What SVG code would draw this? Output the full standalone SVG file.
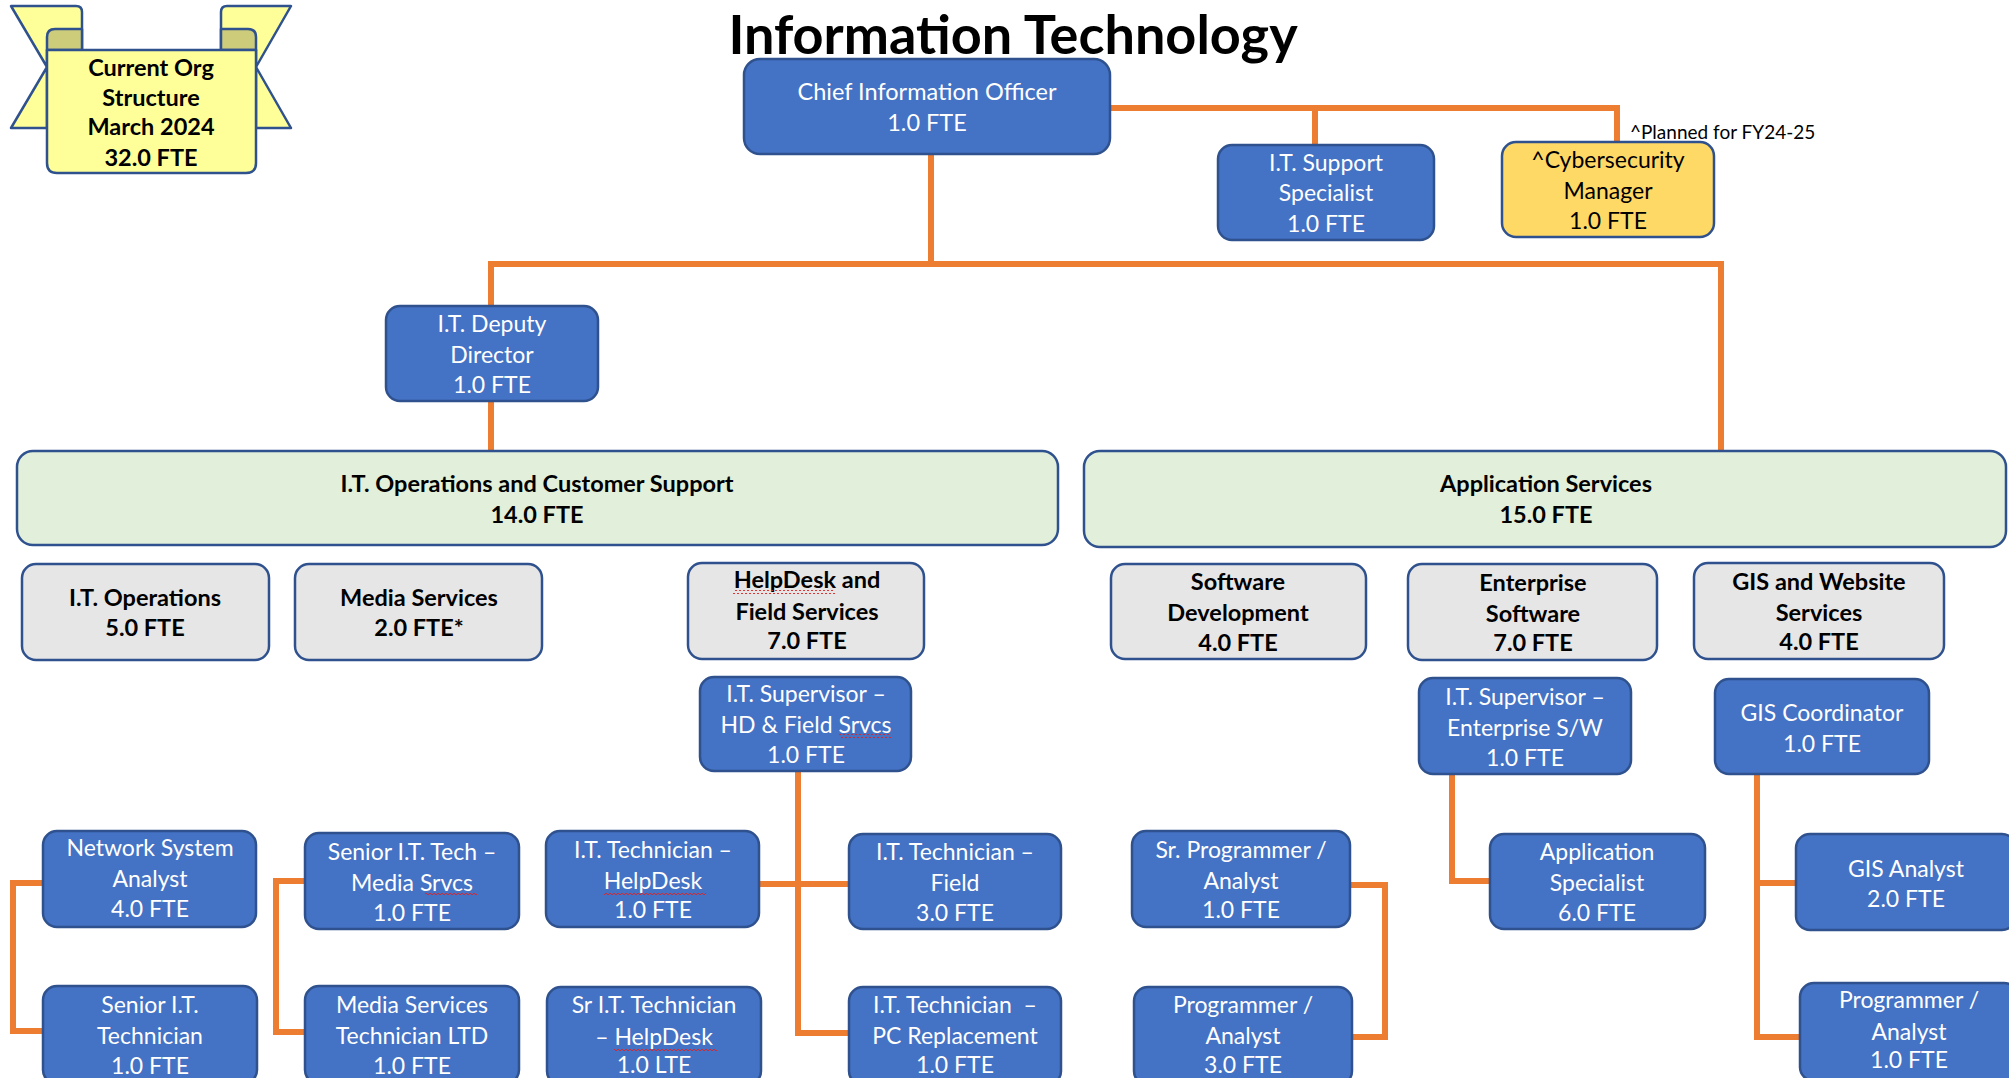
<svg xmlns="http://www.w3.org/2000/svg" width="2009" height="1078" viewBox="0 0 2009 1078">
  <defs>
    <style>
      .blue { fill: #4472C4; stroke: #2F528F; stroke-width: 2.5; }
      .grey { fill: #E7E6E6; stroke: #2F528F; stroke-width: 2.5; }
      .green { fill: #E2EFDA; stroke: #2F528F; stroke-width: 2.5; }
      .gold { fill: #FFD966; stroke: #2F528F; stroke-width: 2.5; }
      .wt { font-family: Lato, "Liberation Sans", sans-serif; font-size: 23px; fill: #FFFFFF; text-anchor: middle; }
      .bt { font-family: Lato, "Liberation Sans", sans-serif; font-size: 23px; fill: #000000; text-anchor: middle; }
      .bb { font-family: Lato, "Liberation Sans", sans-serif; font-size: 23.5px; font-weight: 700; fill: #000000; text-anchor: middle; }
      .wire { fill: none; stroke: #ED7D31; stroke-width: 6; stroke-linejoin: miter; }
      .spell { fill: url(#squiggle); }
    </style>
    <pattern id="squiggle" x="0" y="0" width="4" height="4" patternUnits="userSpaceOnUse">
      <path d="M0,3 L2,1 L4,3" fill="none" stroke="#E02020" stroke-width="0.9"/>
    </pattern>
  </defs>

  <rect x="0" y="0" width="2009" height="1078" fill="#FFFFFF"/>

  <!-- heading -->
  <text x="1013" y="54" font-family="Lato, 'Liberation Sans', sans-serif" font-size="54" font-weight="700" text-anchor="middle" fill="#000000">Information Technology</text>

  <!-- scroll banner -->
  <g id="banner">
    <path d="M11,6 L76,6 Q82,6 82,12 L82,50 L47,50 L47,128 L11,128 L47,67 Z" fill="#FFFF99" stroke="#2F528F" stroke-width="2.5" stroke-linejoin="round"/>
    <path d="M291,6 L227,6 Q221,6 221,12 L221,50 L256,50 L256,128 L291,128 L256,67 Z" fill="#FFFF99" stroke="#2F528F" stroke-width="2.5" stroke-linejoin="round"/>
    <path d="M47,50 L47,37 Q47,29 55,29 L82,29 L82,50 Z" fill="#CCCC7A" stroke="#2F528F" stroke-width="2.5" stroke-linejoin="round"/>
    <path d="M256,50 L256,37 Q256,29 248,29 L221,29 L221,50 Z" fill="#CCCC7A" stroke="#2F528F" stroke-width="2.5" stroke-linejoin="round"/>
    <path d="M47,50 L256,50 L256,163 Q256,173 246,173 L57,173 Q47,173 47,163 Z" fill="#FFFF99" stroke="#2F528F" stroke-width="2.5" stroke-linejoin="round"/>
    <text class="bb"><tspan x="151" y="76">Current Org</tspan><tspan x="151" y="106">Structure</tspan><tspan x="151" y="135">March 2024</tspan><tspan x="151" y="166">32.0 FTE</tspan></text>
  </g>

  <!-- reporting lines -->
  <g id="connectors">
    <path class="wire" d="M1110,108 H1617 V142"/>
    <path class="wire" d="M1315,108 V145"/>
    <path class="wire" d="M931,154 V264"/>
    <path class="wire" d="M491,306 V264 H1721 V451"/>
    <path class="wire" d="M491,401 V451"/>
    <path class="wire" d="M43,883 H13 V1031 H43"/>
    <path class="wire" d="M305,881 H276 V1032 H305"/>
    <path class="wire" d="M798,771 V1033 H849"/>
    <path class="wire" d="M759,884 H849"/>
    <path class="wire" d="M1350,885 H1385 V1037 H1352"/>
    <path class="wire" d="M1452,774 V881 H1490"/>
    <path class="wire" d="M1757,774 V1037 H1800"/>
    <path class="wire" d="M1757,883 H1796"/>
  </g>

  <!-- leadership -->
  <g id="cio">
    <rect class="blue" x="744" y="59" width="366" height="95" rx="16"/>
    <text class="wt" style="font-size:23.5px"><tspan x="927" y="100">Chief Information Officer</tspan><tspan x="927" y="131">1.0 FTE</tspan></text>
  </g>
  <g id="support-specialist">
    <rect class="blue" x="1218" y="145" width="216" height="95" rx="14"/>
    <text class="wt"><tspan x="1326" y="170.5">I.T. Support</tspan><tspan x="1326" y="201">Specialist</tspan><tspan x="1326" y="231.5">1.0 FTE</tspan></text>
  </g>
  <g id="cybersecurity-manager">
    <rect class="gold" x="1502" y="142" width="212" height="95" rx="14"/>
    <text class="bt"><tspan x="1608" y="168">^Cybersecurity</tspan><tspan x="1608" y="198.5">Manager</tspan><tspan x="1608" y="229">1.0 FTE</tspan></text>
    <text x="1630" y="139" font-family="Lato, 'Liberation Sans', sans-serif" font-size="19" fill="#000000">^Planned for FY24-25</text>
  </g>
  <g id="deputy-director">
    <rect class="blue" x="386" y="306" width="212" height="95" rx="14"/>
    <text class="wt"><tspan x="492" y="332">I.T. Deputy</tspan><tspan x="492" y="362.5">Director</tspan><tspan x="492" y="393">1.0 FTE</tspan></text>
  </g>

  <!-- divisions -->
  <g id="ops-customer-support">
    <rect class="green" x="17" y="451" width="1041" height="94" rx="16"/>
    <text class="bb"><tspan x="537" y="492">I.T. Operations and Customer Support</tspan><tspan x="537" y="523">14.0 FTE</tspan></text>
  </g>
  <g id="application-services">
    <rect class="green" x="1084" y="451" width="922" height="96" rx="16"/>
    <text class="bb"><tspan x="1546" y="492">Application Services</tspan><tspan x="1546" y="523">15.0 FTE</tspan></text>
  </g>

  <!-- sections -->
  <g id="it-operations">
    <rect class="grey" x="22" y="564" width="247" height="96" rx="14"/>
    <text class="bb"><tspan x="145" y="606">I.T. Operations</tspan><tspan x="145" y="636">5.0 FTE</tspan></text>
  </g>
  <g id="media-services">
    <rect class="grey" x="295" y="564" width="247" height="96" rx="14"/>
    <text class="bb"><tspan x="419" y="606">Media Services</tspan><tspan x="419" y="636">2.0 FTE*</tspan></text>
  </g>
  <g id="helpdesk-field">
    <rect class="grey" x="688" y="563" width="236" height="96" rx="14"/>
    <text class="bb"><tspan x="807" y="588">HelpDesk and</tspan><tspan x="807" y="620">Field Services</tspan><tspan x="807" y="649">7.0 FTE</tspan></text>
    <rect class="spell" x="733" y="590" width="102" height="4"/>
  </g>
  <g id="software-development">
    <rect class="grey" x="1111" y="564" width="255" height="95" rx="14"/>
    <text class="bb"><tspan x="1238" y="590">Software</tspan><tspan x="1238" y="621">Development</tspan><tspan x="1238" y="651">4.0 FTE</tspan></text>
  </g>
  <g id="enterprise-software">
    <rect class="grey" x="1408" y="564" width="249" height="96" rx="14"/>
    <text class="bb"><tspan x="1533" y="591">Enterprise</tspan><tspan x="1533" y="622">Software</tspan><tspan x="1533" y="651">7.0 FTE</tspan></text>
  </g>
  <g id="gis-website">
    <rect class="grey" x="1694" y="563" width="250" height="96" rx="14"/>
    <text class="bb"><tspan x="1819" y="590">GIS and Website</tspan><tspan x="1819" y="621">Services</tspan><tspan x="1819" y="650">4.0 FTE</tspan></text>
  </g>

  <!-- supervisors -->
  <g id="supervisor-hd-field">
    <rect class="blue" x="700" y="677" width="211" height="94" rx="14"/>
    <text class="wt"><tspan x="806" y="702">I.T. Supervisor –</tspan><tspan x="806" y="732.5">HD &amp; Field Srvcs</tspan><tspan x="806" y="763">1.0 FTE</tspan></text>
    <rect class="spell" x="839" y="734" width="52" height="4"/>
  </g>
  <g id="supervisor-enterprise">
    <rect class="blue" x="1419" y="678" width="212" height="96" rx="14"/>
    <text class="wt"><tspan x="1525" y="705">I.T. Supervisor –</tspan><tspan x="1525" y="735.5">Enterprise S/W</tspan><tspan x="1525" y="766">1.0 FTE</tspan></text>
  </g>
  <g id="gis-coordinator">
    <rect class="blue" x="1715" y="679" width="214" height="95" rx="14"/>
    <text class="wt"><tspan x="1822" y="721">GIS Coordinator</tspan><tspan x="1822" y="752">1.0 FTE</tspan></text>
  </g>

  <!-- staff -->
  <g id="network-system-analyst">
    <rect class="blue" x="43" y="831" width="213" height="96" rx="14"/>
    <text class="wt"><tspan x="150" y="856">Network System</tspan><tspan x="150" y="887">Analyst</tspan><tspan x="150" y="917">4.0 FTE</tspan></text>
  </g>
  <g id="senior-it-technician">
    <rect class="blue" x="43" y="986" width="214" height="98" rx="14"/>
    <text class="wt"><tspan x="150" y="1013">Senior I.T.</tspan><tspan x="150" y="1044">Technician</tspan><tspan x="150" y="1074">1.0 FTE</tspan></text>
  </g>
  <g id="senior-tech-media">
    <rect class="blue" x="305" y="833" width="214" height="96" rx="14"/>
    <text class="wt"><tspan x="412" y="860">Senior I.T. Tech –</tspan><tspan x="412" y="891">Media Srvcs</tspan><tspan x="412" y="921">1.0 FTE</tspan></text>
    <rect class="spell" x="425" y="893" width="52" height="4"/>
  </g>
  <g id="media-services-technician">
    <rect class="blue" x="305" y="986" width="214" height="98" rx="14"/>
    <text class="wt"><tspan x="412" y="1013">Media Services</tspan><tspan x="412" y="1044">Technician LTD</tspan><tspan x="412" y="1074">1.0 FTE</tspan></text>
  </g>
  <g id="technician-helpdesk">
    <rect class="blue" x="546" y="831" width="213" height="96" rx="14"/>
    <text class="wt"><tspan x="653" y="858">I.T. Technician –</tspan><tspan x="653" y="889">HelpDesk</tspan><tspan x="653" y="918">1.0 FTE</tspan></text>
    <rect class="spell" x="604" y="891" width="102" height="4"/>
  </g>
  <g id="sr-technician-helpdesk">
    <rect class="blue" x="547" y="987" width="214" height="98" rx="14"/>
    <text class="wt"><tspan x="654" y="1013">Sr I.T. Technician</tspan><tspan x="654" y="1045">– HelpDesk</tspan><tspan x="654" y="1073">1.0 LTE</tspan></text>
    <rect class="spell" x="614" y="1047" width="103" height="4"/>
  </g>
  <g id="technician-field">
    <rect class="blue" x="849" y="834" width="212" height="95" rx="14"/>
    <text class="wt"><tspan x="955" y="860">I.T. Technician –</tspan><tspan x="955" y="891">Field</tspan><tspan x="955" y="921">3.0 FTE</tspan></text>
  </g>
  <g id="technician-pc-replacement">
    <rect class="blue" x="849" y="987" width="212" height="98" rx="14"/>
    <text class="wt" xml:space="preserve"><tspan x="955" y="1013">I.T. Technician  –</tspan><tspan x="955" y="1044">PC Replacement</tspan><tspan x="955" y="1073">1.0 FTE</tspan></text>
  </g>
  <g id="sr-programmer-analyst">
    <rect class="blue" x="1132" y="831" width="218" height="96" rx="14"/>
    <text class="wt"><tspan x="1241" y="858">Sr. Programmer /</tspan><tspan x="1241" y="889">Analyst</tspan><tspan x="1241" y="918">1.0 FTE</tspan></text>
  </g>
  <g id="programmer-analyst-dev">
    <rect class="blue" x="1134" y="987" width="218" height="98" rx="14"/>
    <text class="wt"><tspan x="1243" y="1013">Programmer /</tspan><tspan x="1243" y="1044">Analyst</tspan><tspan x="1243" y="1073">3.0 FTE</tspan></text>
  </g>
  <g id="application-specialist">
    <rect class="blue" x="1490" y="834" width="215" height="95" rx="14"/>
    <text class="wt"><tspan x="1597" y="860">Application</tspan><tspan x="1597" y="891">Specialist</tspan><tspan x="1597" y="921">6.0 FTE</tspan></text>
  </g>
  <g id="gis-analyst">
    <rect class="blue" x="1796" y="834" width="220" height="96" rx="14"/>
    <text class="wt"><tspan x="1906" y="877">GIS Analyst</tspan><tspan x="1906" y="907">2.0 FTE</tspan></text>
  </g>
  <g id="programmer-analyst-gis">
    <rect class="blue" x="1800" y="983" width="218" height="98" rx="14"/>
    <text class="wt"><tspan x="1909" y="1008">Programmer /</tspan><tspan x="1909" y="1040">Analyst</tspan><tspan x="1909" y="1068">1.0 FTE</tspan></text>
  </g>
</svg>
